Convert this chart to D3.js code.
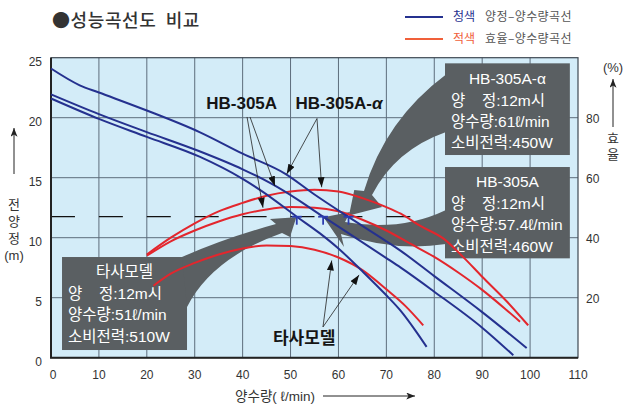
<!DOCTYPE html>
<html>
<head>
<meta charset="utf-8">
<script src="https://cdn.jsdelivr.net/npm/d3@7"></script>
<style>
html, body { margin: 0; padding: 0; background: #fff; }
svg { display: block; font-family: "Liberation Sans", Arial, "Noto Sans CJK KR", sans-serif; }
</style>
</head>
<body>
<div id="chart"></div>
<script>
// axis ticks
var flowTicks = [0, 10, 20, 30, 40, 50, 60, 70, 80, 90, 100, 110];
var headTicks = [0, 5, 10, 15, 20, 25];
var effTicks = [20, 40, 60, 80];

// head curves (m) against flow (l/min)
var alphaHeadQ = [0, 6, 10, 20, 31, 40, 49, 55, 62, 70, 73, 80, 90, 99.3];
var alphaHead  = [24.1, 22.7, 22.1, 20.6, 18.8, 17.0, 15.3, 13.6, 11.75, 9.7, 8.9, 6.8, 3.8, 0.8];
var hbHeadQ = [0, 10, 20, 31, 40, 46, 51, 56.8, 62, 70, 73, 80, 90, 96.5];
var hbHead  = [21.95, 20.3, 18.8, 17.2, 15.7, 14.5, 13.3, 11.75, 10.4, 8.3, 7.5, 5.5, 2.5, 0.2];
var tasaHeadQ = [0, 10, 20, 31, 40, 44.3, 51.3, 56, 60, 65, 70, 73, 76, 78.4];
var tasaHead  = [21.6, 19.9, 18.4, 16.75, 14.9, 13.8, 11.75, 10.4, 9.1, 7.2, 5.2, 3.9, 2.3, 0.9];

// efficiency curves (%) against flow (l/min)
var alphaEffQ = [20, 25, 30, 35, 40, 45, 50, 55, 60, 65, 70, 73, 77, 82, 86, 90, 95, 99.6];
var alphaEff  = [34.4, 40.0, 44.8, 48.8, 51.6, 54.0, 55.4, 56.0, 55.4, 53.2, 50.2, 48.0, 44.0, 39.6, 33.6, 27.0, 19.0, 10.8];
var hbEffQ = [20, 25, 30, 35, 40, 45, 50, 55, 60, 65, 70, 75, 80, 85, 90, 95, 97.9];
var hbEff  = [34.0, 38.8, 42.4, 45.4, 47.8, 49.4, 50.2, 50.0, 48.8, 46.0, 42.4, 38.0, 33.6, 28.4, 22.6, 16.0, 12.0];
var tasaEffQ = [21.4, 25, 30, 35, 40, 45, 50, 55, 60, 65, 70, 74, 77.7];
var tasaEff  = [24.0, 28.0, 31.6, 34.4, 36.4, 37.4, 37.2, 36.0, 33.4, 29.2, 22.8, 17.2, 10.8];

// duty point (12 m line) and the three models
var dutyHead = 11.75;
var models = ["HB-305A-α", "HB-305A", "타사모델"];
var dutyFlow = [62.1, 56.8, 51.3];
var ratedHead = ["12m시", "12m시", "12m시"];
var ratedFlow = ["61ℓ/min", "57.4ℓ/min", "51ℓ/min"];
var ratedPower = ["450W", "460W", "510W"];

var blue = "#25318f";
var red = "#e3262d";
var boxFill = "#5a5f62";

var width = 635, height = 409;

var x = d3.scaleLinear().domain([0, 110]).range([51, 578]);
var y = d3.scaleLinear().domain([0, 25]).range([357.7, 57.7]);
var yEff = d3.scaleLinear().domain([0, 100]).range([357.7, 57.7]);

var svg = d3.select("#chart").append("svg")
    .attr("width", width)
    .attr("height", height);

var defs = svg.append("defs");
defs.append("marker")
    .attr("id", "tip")
    .attr("viewBox", "0 0 10 7")
    .attr("refX", 10).attr("refY", 3.5)
    .attr("markerWidth", 10).attr("markerHeight", 7)
    .attr("markerUnits", "userSpaceOnUse")
    .attr("orient", "auto")
    .append("path").attr("d", "M0,0L10,3.5L0,7z").attr("fill", "#111");
defs.append("marker")
    .attr("id", "axtip")
    .attr("viewBox", "0 0 10 8")
    .attr("refX", 10).attr("refY", 4)
    .attr("markerWidth", 9).attr("markerHeight", 7)
    .attr("markerUnits", "userSpaceOnUse")
    .attr("orient", "auto")
    .append("path").attr("d", "M0,0L10,4L0,8L2.5,4z").attr("fill", "#222");

// title
svg.append("text")
    .attr("x", 52).attr("y", 27)
    .attr("font-family", "'Noto Sans CJK KR', sans-serif")
    .attr("font-size", 18).attr("font-weight", 500)
    .attr("letter-spacing", 0.6)
    .attr("fill", "#333")
    .attr("xml:space", "preserve")
    .text("●성능곡선도  비교");

// legend
var legend = svg.append("g").attr("font-family", "'Noto Sans CJK KR', sans-serif").attr("font-size", 12);
[["청색", "양정–양수량곡선", blue, 17], ["적색", "효율–양수량곡선", "#f0603a", 39]].forEach(function(d){
    legend.append("line")
        .attr("x1", 405).attr("x2", 443).attr("y1", d[3]).attr("y2", d[3])
        .attr("stroke", d[2]).attr("stroke-width", 2);
    legend.append("text").attr("x", 453).attr("y", d[3]).attr("dy", "0.35em")
        .attr("fill", d[2]).text(d[0]);
    legend.append("text").attr("x", 485).attr("y", d[3]).attr("dy", "0.35em")
        .attr("letter-spacing", 0.4)
        .attr("fill", "#555").text(d[1]);
});

// plot background and grid
svg.append("rect")
    .attr("x", x(0)).attr("y", y(25))
    .attr("width", x(110) - x(0)).attr("height", y(0) - y(25))
    .attr("fill", "#d3ecf8");

var grid = svg.append("g").attr("stroke", "#5d6d7c").attr("stroke-width", 1);
grid.selectAll(".vg").data(flowTicks.slice(1, -1)).enter().append("line")
    .attr("x1", d => x(d)).attr("x2", d => x(d))
    .attr("y1", y(0)).attr("y2", y(25));
grid.selectAll(".hg").data(headTicks.slice(1, -1)).enter().append("line")
    .attr("x1", x(0)).attr("x2", x(110))
    .attr("y1", d => y(d)).attr("y2", d => y(d));

// 12 m duty line
var dashLen = x(5) - x(0);
svg.append("line")
    .attr("x1", x(0)).attr("x2", x(110))
    .attr("y1", y(dutyHead)).attr("y2", y(dutyHead))
    .attr("stroke", "#111").attr("stroke-width", 1.3)
    .attr("stroke-dasharray", dashLen + "," + dashLen);

// frame
svg.append("rect")
    .attr("x", x(0)).attr("y", y(25))
    .attr("width", x(110) - x(0)).attr("height", y(0) - y(25))
    .attr("fill", "none").attr("stroke", "#3e4852").attr("stroke-width", 1.2);
svg.append("path")
    .attr("d", "M" + x(0) + "," + y(25) + "V" + y(0) + "H" + x(110))
    .attr("fill", "none").attr("stroke", "#222").attr("stroke-width", 2);

// info boxes (layout in data units of the plot)
var boxLayout = [
    {q0: 82.24, q1: 108.3, h0: 24.53, h1: 16.89},
    {q0: 82.24, q1: 108.3, h0: 15.89, h1: 8.28},
    {q0: 2.3, q1: 28.39, h0: 8.39, h1: 0.64}
];
var boxes = svg.append("g");
boxLayout.forEach(function(b, i){
    var bx = x(b.q0), by = y(b.h0), bw = x(b.q1) - x(b.q0), bh = y(b.h1) - y(b.h0);
    boxes.append("rect").attr("x", bx).attr("y", by).attr("width", bw).attr("height", bh)
        .attr("fill", boxFill);
    var t = boxes.append("g").attr("fill", "#fff").attr("font-size", 15.5);
    t.append("text").attr("x", bx + bw / 2).attr("y", by + 15).attr("dy", "0.35em")
        .attr("text-anchor", "middle").text(models[i]);
    t.append("text").attr("x", bx + 6).attr("y", by + 37).attr("dy", "0.35em").text("양");
    t.append("text").attr("x", bx + 37).attr("y", by + 37).attr("dy", "0.35em").text("정:" + ratedHead[i]);
    t.append("text").attr("x", bx + 6).attr("y", by + 58).attr("dy", "0.35em").text("양수량:" + ratedFlow[i]);
    t.append("text").attr("x", bx + 6).attr("y", by + 79.5).attr("dy", "0.35em").text("소비전력:" + ratedPower[i]);
});

// big callout arrows from boxes to duty points
var callouts = [
    {s: [82.45, 23.6], c1: [69.7, 19.8], n1: [65.33, 13.89], w1: [63.3, 13.98], tip: [62.2, 11.85],
     w2: [69.09, 12.56], n2: [67.0, 13.56], c2: [71.8, 17.31], e: [82.45, 18.81]},
    {s: [82.45, 12.31], c1: [72.85, 10.48], n1: [61.37, 11.31], w1: [62.41, 12.14], tip: [56.9, 11.7],
     w2: [61.16, 9.23], n2: [60.53, 10.31], c2: [71.8, 8.81], e: [82.45, 9.48]},
    {s: [27.34, 8.39], c1: [36.32, 9.98], n1: [46.96, 11.14], w1: [45.71, 11.56], tip: [51.2, 11.7],
     w2: [49.89, 10.06], n2: [48.22, 10.39], c2: [33.6, 8.31], e: [28.39, 4.23]}
];
callouts.forEach(function(c){
    var p = d3.path();
    p.moveTo(x(c.s[0]), y(c.s[1]));
    p.quadraticCurveTo(x(c.c1[0]), y(c.c1[1]), x(c.n1[0]), y(c.n1[1]));
    p.lineTo(x(c.w1[0]), y(c.w1[1]));
    p.lineTo(x(c.tip[0]), y(c.tip[1]));
    p.lineTo(x(c.w2[0]), y(c.w2[1]));
    p.lineTo(x(c.n2[0]), y(c.n2[1]));
    p.quadraticCurveTo(x(c.c2[0]), y(c.c2[1]), x(c.e[0]), y(c.e[1]));
    p.closePath();
    svg.append("path").attr("d", p.toString()).attr("fill", boxFill);
});

// curves
var headLine = d3.line().x(d => x(d[0])).y(d => y(d[1])).curve(d3.curveMonotoneX);
var effLine = d3.line().x(d => x(d[0])).y(d => yEff(d[1])).curve(d3.curveMonotoneX);

[[tasaEffQ, tasaEff], [hbEffQ, hbEff], [alphaEffQ, alphaEff]].forEach(function(s){
    svg.append("path").datum(d3.zip(s[0], s[1]))
        .attr("d", effLine).attr("fill", "none")
        .attr("stroke", red).attr("stroke-width", 2);
});
[[tasaHeadQ, tasaHead], [hbHeadQ, hbHead], [alphaHeadQ, alphaHead]].forEach(function(s){
    svg.append("path").datum(d3.zip(s[0], s[1]))
        .attr("d", headLine).attr("fill", "none")
        .attr("stroke", blue).attr("stroke-width", 2);
});

// duty point marks
var marks = svg.append("g").attr("stroke", "#2b3cb0").attr("stroke-width", 1.8);
marks.selectAll(".mh").data(dutyFlow).enter().append("line")
    .attr("x1", d => x(d) - 5).attr("x2", d => x(d) + 5)
    .attr("y1", y(dutyHead)).attr("y2", y(dutyHead));
marks.selectAll(".mv").data(dutyFlow).enter().append("line")
    .attr("x1", d => x(d)).attr("x2", d => x(d))
    .attr("y1", y(dutyHead)).attr("y2", y(dutyHead) + 8);

// thin pointer arrows from curve labels
var pointers = [
    [[40.92, 20.06], [44.25, 12.5]],
    [[41.54, 20.06], [46.75, 14.3]],
    [[55.52, 19.93], [49.2, 15.3]],
    [[55.52, 19.93], [56.5, 14.2]],
    [[56.77, 2.56], [58.59, 8.1]],
    [[56.77, 2.56], [64.3, 6.9]]
];
svg.selectAll(".ptr").data(pointers).enter().append("line")
    .attr("x1", d => x(d[0][0])).attr("y1", d => y(d[0][1]))
    .attr("x2", d => x(d[1][0])).attr("y2", d => y(d[1][1]))
    .attr("stroke", "#222").attr("stroke-width", 0.8)
    .attr("marker-end", "url(#tip)");

var curveLabels = svg.append("g").attr("font-size", 17).attr("font-weight", "bold").attr("fill", "#151515")
    .attr("text-anchor", "middle");
curveLabels.append("text").attr("x", x(39.8)).attr("y", y(21.25)).attr("dy", "0.35em").text(models[1]);
var al = curveLabels.append("text").attr("x", x(60.1)).attr("y", y(21.25)).attr("dy", "0.35em");
al.append("tspan").text("HB-305A-");
al.append("tspan").attr("font-style", "italic").text("α");
curveLabels.append("text").attr("x", x(52.85)).attr("y", y(1.62)).attr("dy", "0.35em")
    .attr("font-family", "'Noto Sans CJK KR', sans-serif").text(models[2]);

// tick labels
var ticks = svg.append("g").attr("font-size", 12).attr("fill", "#333");
ticks.selectAll(".yl").data(headTicks).enter().append("text")
    .attr("x", 42).attr("y", d => y(d) + 4).attr("dy", "0.35em")
    .attr("text-anchor", "end").text(d => d);
ticks.selectAll(".el").data(effTicks).enter().append("text")
    .attr("x", 586).attr("y", d => yEff(d) + 1).attr("dy", "0.35em")
    .text(d => d);
ticks.selectAll(".xl").data(flowTicks).enter().append("text")
    .attr("x", d => x(d) + (d === 0 ? 2 : 0)).attr("y", 375).attr("dy", "0.35em")
    .attr("text-anchor", "middle").text(d => d);

// axis titles
var at = svg.append("g").attr("font-size", 13).attr("fill", "#333").attr("text-anchor", "middle");
svg.append("line").attr("x1", 14).attr("x2", 14).attr("y1", 174).attr("y2", 128)
    .attr("stroke", "#222").attr("stroke-width", 1).attr("marker-end", "url(#axtip)");
["전", "양", "정", "(m)"].forEach(function(s, i){
    at.append("text").attr("x", 14).attr("y", 204 + i * 17).attr("dy", "0.35em").text(s);
});
at.append("text").attr("x", 613).attr("y", 67).attr("dy", "0.35em").text("(%)");
svg.append("line").attr("x1", 613).attr("x2", 613).attr("y1", 127).attr("y2", 79)
    .attr("stroke", "#222").attr("stroke-width", 1).attr("marker-end", "url(#axtip)");
["효", "율"].forEach(function(s, i){
    at.append("text").attr("x", 613).attr("y", 138 + i * 16).attr("dy", "0.35em").text(s);
});
at.append("text").attr("x", 275).attr("y", 396).attr("dy", "0.35em").attr("font-size", 13.5).text("양수량( ℓ/min)");
svg.append("line").attr("x1", 323).attr("x2", 415).attr("y1", 396).attr("y2", 396)
    .attr("stroke", "#222").attr("stroke-width", 1).attr("marker-end", "url(#axtip)");
</script>
</body>
</html>
